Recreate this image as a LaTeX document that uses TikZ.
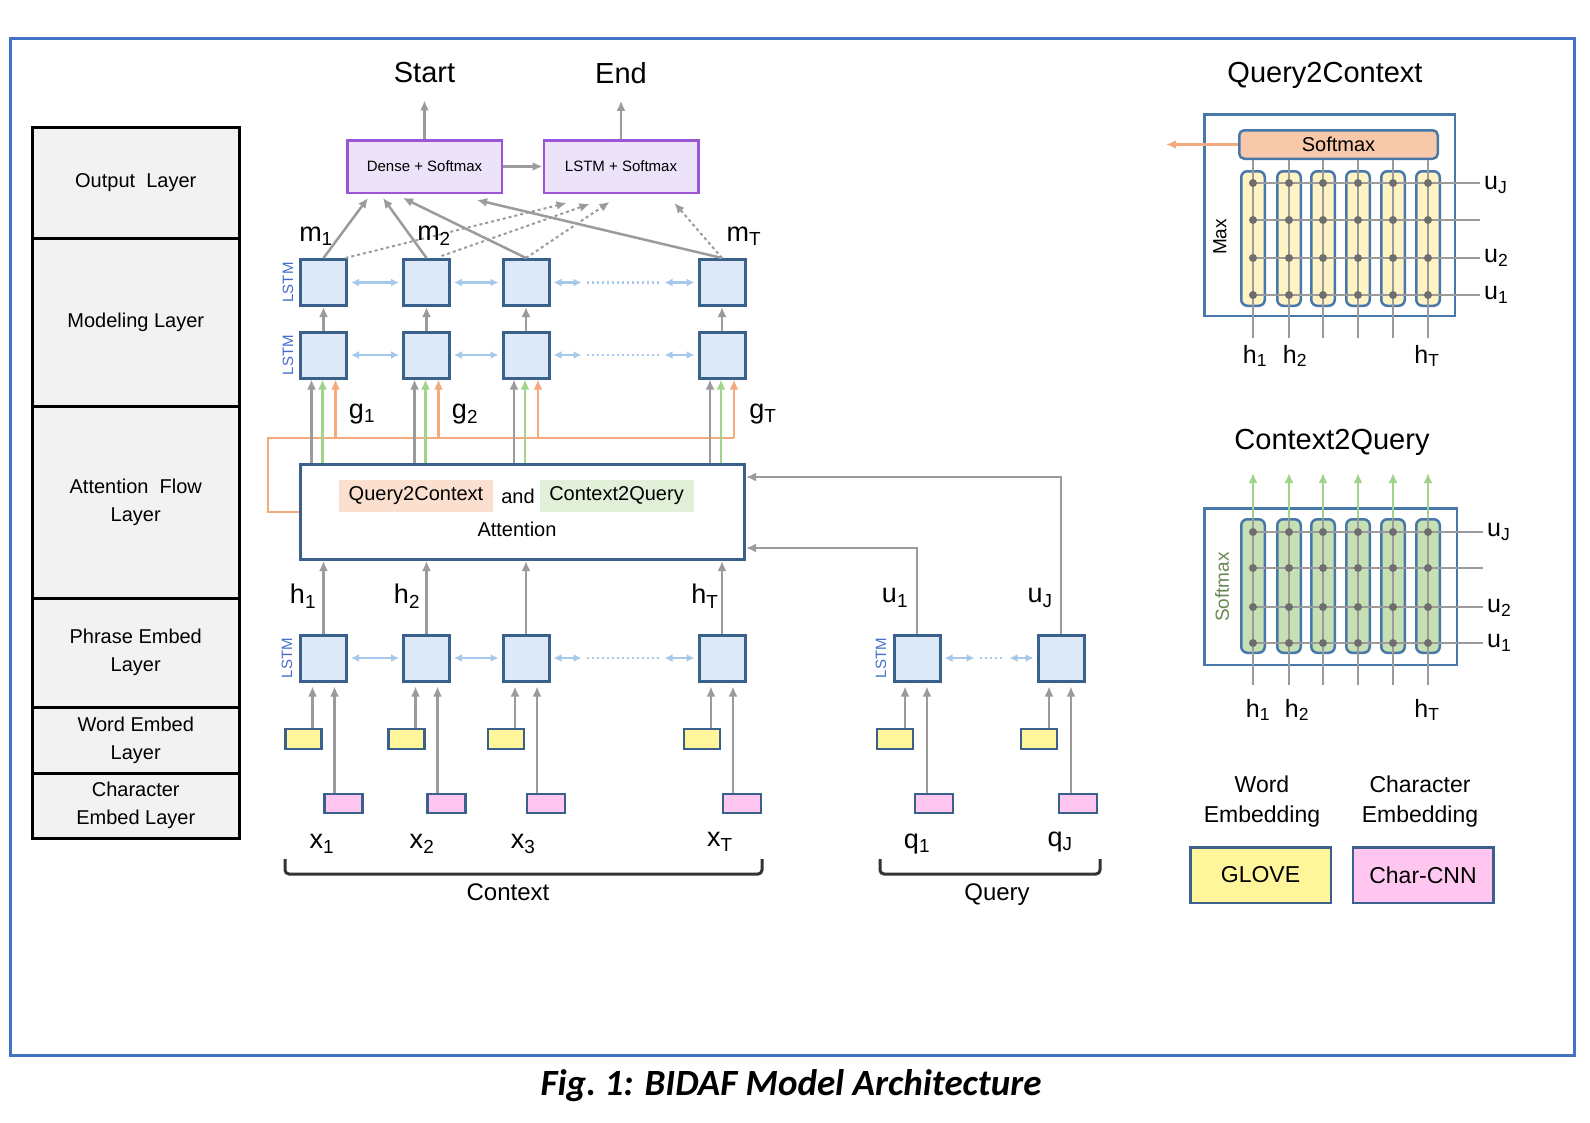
\documentclass[tikz,border=0pt]{standalone}
\usepackage{fontspec}
\setmainfont{Liberation Sans}
\newfontfamily\figcapfont{Carlito}
\usepackage{tikz}
\usetikzlibrary{arrows.meta}
\usetikzlibrary{calc}
\usetikzlibrary{positioning}

\definecolor{frameblue}{RGB}{68,114,196}
\definecolor{boxblue}{RGB}{58,96,140}
\definecolor{boxfill}{RGB}{221,233,246}
\definecolor{lightblue}{RGB}{165,200,235}
\definecolor{arrowgray}{RGB}{155,155,155}
\definecolor{flowgreen}{RGB}{160,212,138}
\definecolor{floworange}{RGB}{245,170,125}
\definecolor{outpurple}{RGB}{155,85,215}
\definecolor{outfill}{RGB}{236,226,250}
\definecolor{gloveyellow}{RGB}{255,245,155}
\definecolor{charpink}{RGB}{255,198,240}
\definecolor{layerfill}{RGB}{242,242,242}
\definecolor{peach}{RGB}{251,224,208}
\definecolor{palegreen}{RGB}{226,240,217}
\definecolor{softfill}{RGB}{248,200,170}
\definecolor{colyellow}{RGB}{255,243,196}
\definecolor{colgreen}{RGB}{198,224,180}
\definecolor{panelblue}{RGB}{72,120,170}
\definecolor{lstmblue}{RGB}{70,110,200}
\definecolor{dotgray}{RGB}{110,110,110}
\definecolor{softgreen}{RGB}{105,135,85}

\newcommand{\tikzGridDot}[1]{\fill[dotgray] #1 circle (4pt)}

\tikzset{
  layercell/.style={draw=black, fill=layerfill, line width=3pt, outer sep=0pt, minimum width=206.5pt, inner sep=0pt, align=center, font=\fontsize{20}{28}\selectfont},
  bigtext/.style={inner sep=2pt, font=\fontsize{29}{34}\selectfont},
  outbox/.style={draw=outpurple, fill=outfill, line width=2.5pt, minimum width=154.5pt, minimum height=52.5pt, inner sep=0pt, font=\fontsize{15}{18}\selectfont},
  lstmbox/.style={draw=boxblue, fill=boxfill, line width=3pt, minimum size=46pt, inner sep=0pt},
  attbox/.style={draw=boxblue, fill=white, line width=3pt, minimum width=444pt, minimum height=95pt, inner sep=0pt},
  hlbox/.style={minimum width=154pt, minimum height=32pt, inner sep=0pt, font=\fontsize{20}{24}\selectfont},
  hltext/.style={inner sep=1pt, font=\fontsize{20}{24}\selectfont},
  wordemb/.style={draw=boxblue, fill=gloveyellow, line width=2.5pt, minimum width=36pt, minimum height=20pt, inner sep=0pt},
  charemb/.style={draw=boxblue, fill=charpink, line width=2.5pt, minimum width=38pt, minimum height=19pt, inner sep=0pt},
  lstmtag/.style={rotate=90, text=lstmblue, inner sep=0pt, font=\fontsize{15}{17}\selectfont},
  varlabel/.style={inner sep=1pt, font=\fontsize{27}{30}\selectfont},
  grayarrow/.style={draw=arrowgray, line width=2.5pt, -{Latex[length=10pt,width=9pt]}},
  dasharrow/.style={grayarrow, line width=2pt, dash pattern=on 3pt off 3pt},
  greenarrow/.style={draw=flowgreen, line width=2.5pt, -{Latex[length=10pt,width=9pt]}},
  orangearrow/.style={draw=floworange, line width=2.5pt, -{Latex[length=10pt,width=9pt]}},
  orangeline/.style={draw=floworange, line width=2.5pt},
  biarrow/.style={draw=lightblue, line width=2.5pt, {Latex[length=8pt,width=8pt]}-{Latex[length=8pt,width=8pt]}, shorten <=3pt, shorten >=3pt},
  bidotted/.style={draw=lightblue, line width=2.5pt, dash pattern=on 2pt off 3pt},
  ctxbracket/.style={draw=black!80, line width=3pt, rounded corners=4pt},
  paneltitle/.style={inner sep=2pt, font=\fontsize{29}{34}\selectfont},
  panelbox/.style={draw=panelblue, line width=2.5pt, inner sep=0pt},
  softbox/.style={draw=panelblue, fill=softfill, line width=2.5pt, rounded corners=5pt, minimum width=198.5pt, minimum height=28.5pt, inner sep=0pt, font=\fontsize{20}{24}\selectfont},
  gridcol/.style={draw=panelblue, line width=2.5pt, rounded corners=6pt, minimum width=23.5pt, inner sep=0pt},
  gridline/.style={draw=arrowgray, line width=2.5pt},
  gridlabel/.style={inner sep=1pt, font=\fontsize{25}{28}\selectfont},
  vertlabel/.style={rotate=90, inner sep=0pt, font=\fontsize{19}{22}\selectfont},
  legendtext/.style={align=center, inner sep=0pt, font=\fontsize{23}{30}\selectfont},
  legendbox/.style={draw=boxblue, line width=2.5pt, minimum width=140.5pt, minimum height=55.5pt, inner sep=0pt, font=\fontsize{23}{26}\selectfont},
  labeltext/.style={inner sep=1pt, font=\fontsize{24}{28}\selectfont}
}

\begin{document}
\begin{tikzpicture}[x=1pt,y=-1pt]
  \useasboundingbox (0,0) rectangle (1590,1122);
  \fill[white] (0,0) rectangle (1590,1122);
  \draw[frameblue, line width=3pt] (10,38.5) rectangle (1574,1055);

  % layer names
  \node[layercell, minimum height=111pt] (outlayer) at (135.75,182.5) {Output\ \ Layer};
  \node[layercell, minimum height=168pt, below=0pt of outlayer] (modlayer) {Modeling Layer};
  \node[layercell, minimum height=192pt, below=0pt of modlayer] (attlayer) {Attention\ \ Flow\\Layer};
  \node[layercell, minimum height=109pt, below=0pt of attlayer] (phrlayer) {Phrase Embed\\Layer};
  \node[layercell, minimum height=66pt, below=0pt of phrlayer] (wordlayer) {Word Embed\\Layer};
  \node[layercell, minimum height=65pt, below=0pt of wordlayer] (charlayer) {Character\\Embed Layer};

  % output layer
  \node[bigtext] (start) at (424.5,73) {Start};
  \node[bigtext] (end) at (621,73) {End};
  \node[outbox] (dense) at (424.5,166.5) {Dense + Softmax};
  \node[outbox] (lstmsm) at (621,166.5) {LSTM + Softmax};
  \draw[grayarrow, shorten >=15pt] (dense) -- (start);
  \draw[grayarrow, shorten >=15pt] (lstmsm) -- (end);
  \draw[grayarrow] (dense) -- (lstmsm);

  % attention flow
  \node[attbox] (att) at (522.5,512) {};
  \node[hlbox, fill=peach] (q2cword) at (416,496) {Query2Context};
  \node[hltext] (andword) at (518,496) {and};
  \node[hlbox, fill=palegreen] (c2qword) at (616.5,496) {Context2Query};
  \node[hltext] (attword) at (517,529) {Attention};
  \coordinate (obend) at (268,438);

  \foreach \i/\x in {1/323.5,2/426.5,3/526,4/722}{
    \node[lstmbox] (mt\i) at (\x,282.5) {};
    \node[lstmbox] (mb\i) at (\x,355) {};
    \node[lstmbox] (ph\i) at (\x,658) {};
    \node[wordemb] (wd\i) at (\x-20,739) {};
    \node[charemb] (ch\i) at (\x+20,803.5) {};
    \coordinate (gy\i) at ($(mb\i.south)+(-12,0)$);
    \coordinate (gg\i) at ($(mb\i.south)+(-1,0)$);
    \coordinate (go\i) at ($(mb\i.south)+(12,0)$);
    \coordinate (wa\i) at ($(ph\i.south)+(-11,0)$);
    \coordinate (ca\i) at ($(ph\i.south)+(11,0)$);
  }
  \draw[orangeline] (att.west) -- (att.west -| obend) -- (obend) -- (go4 |- obend);
  \foreach \i in {1,...,4}{
    \draw[grayarrow] (mb\i) -- (mt\i);
    \draw[grayarrow] (ph\i) -- (ph\i |- att.south);
    \draw[grayarrow] (gy\i |- att.north) -- (gy\i);
    \draw[greenarrow] (gg\i |- att.north) -- (gg\i);
    \draw[orangearrow] (go\i |- obend) -- (go\i);
    \draw[grayarrow, shorten >=4pt] (wa\i |- wd\i.north) -- (wa\i);
    \draw[grayarrow, shorten >=4pt] (ca\i |- ch\i.north) -- (ca\i);
  }
  \foreach \r in {mt,mb,ph}{
    \draw[biarrow] (\r1) -- (\r2);
    \draw[biarrow] (\r2) -- (\r3);
    \draw[biarrow] (\r3.east) -- ($(\r3.east)+(34,0)$);
    \draw[bidotted] ($(\r3.east)+(36,0)$) -- ($(\r4.west)+(-38,0)$);
    \draw[biarrow] ($(\r4.west)+(-36,0)$) -- (\r4.west);
  }
  \node[lstmtag] (tagmt) at (288,282.5) {LSTM};
  \node[lstmtag] (tagmb) at (288,355) {LSTM};
  \node[lstmtag] (tagph) at (287,658) {LSTM};

  % modeling outputs to start / end
  \draw[grayarrow] (mt1.north) -- ($(dense.south west)+(22,4)$);
  \draw[grayarrow] (mt2.north) -- ($(dense.south west)+(37,4)$);
  \draw[grayarrow] (mt3.north) -- ($(dense.south west)+(57,4)$);
  \draw[grayarrow] (mt4.north) -- ($(dense.south west)+(131,6)$);
  \draw[dasharrow] ($(mt1.north)+(22,0)$) -- ($(lstmsm.south west)+(24,9)$);
  \draw[dasharrow] ($(mt2.north)+(15,-2)$) -- ($(lstmsm.south west)+(47,10)$);
  \draw[dasharrow] (mt3.north) -- ($(lstmsm.south west)+(67,8)$);
  \draw[dasharrow] (mt4.north) -- ($(lstmsm.south west)+(132,9)$);

  \node[varlabel] (m1) at (316,236) {m\textsubscript{1}};
  \node[varlabel] (m2) at (434,236) {m\textsubscript{2}};
  \node[varlabel] (mT) at (744,236) {m\textsubscript{T}};
  \node[varlabel] (g1) at (362,414) {g\textsubscript{1}};
  \node[varlabel] (g2) at (465,414) {g\textsubscript{2}};
  \node[varlabel] (gT) at (763,414) {g\textsubscript{T}};
  \node[varlabel] (h1) at (303,596) {h\textsubscript{1}};
  \node[varlabel] (h2) at (407,596) {h\textsubscript{2}};
  \node[varlabel] (hT) at (705,596) {h\textsubscript{T}};
  \node[varlabel] (x1) at (322,844) {x\textsubscript{1}};
  \node[varlabel] (x2) at (422,844) {x\textsubscript{2}};
  \node[varlabel] (x3) at (523,844) {x\textsubscript{3}};
  \node[varlabel] (xT) at (720,842) {x\textsubscript{T}};

  % query side
  \foreach \i/\x in {1/917,2/1061}{
    \node[lstmbox] (qy\i) at (\x,658) {};
    \node[wordemb] (qwd\i) at (\x-22,739) {};
    \node[charemb] (qch\i) at (\x+17,803.5) {};
    \coordinate (qwa\i) at ($(qy\i.south)+(-12,0)$);
    \coordinate (qca\i) at ($(qy\i.south)+(10,0)$);
    \draw[grayarrow, shorten >=4pt] (qwa\i |- qwd\i.north) -- (qwa\i);
    \draw[grayarrow, shorten >=4pt] (qca\i |- qch\i.north) -- (qca\i);
  }
  \node[lstmtag] (tagqy) at (881,658) {LSTM};
  \draw[biarrow] (qy1.east) -- ($(qy1.east)+(36,0)$);
  \draw[bidotted] ($(qy1.east)+(38,0)$) -- ($(qy2.west)+(-32,0)$);
  \draw[biarrow] ($(qy2.west)+(-30,0)$) -- (qy2.west);
  \draw[grayarrow] (qy1.north) |- (att.east |- 0,548);
  \draw[grayarrow] (qy2.north) |- (att.east |- 0,477);
  \node[varlabel] (u1) at (895,598) {u\textsubscript{1}};
  \node[varlabel] (uJ) at (1040,598) {u\textsubscript{J}};
  \node[varlabel] (q1) at (917,844) {q\textsubscript{1}};
  \node[varlabel] (qJ) at (1060,842) {q\textsubscript{J}};

  \draw[ctxbracket] (285,859) -- (285,874) -- (762,874) -- (762,859);
  \draw[ctxbracket] (880,859) -- (880,874) -- (1100,874) -- (1100,859);
  \node[labeltext] (ctxword) at (508,892) {Context};
  \node[labeltext] (qryword) at (997,895) {Query};

  % query2context panel
  \node[paneltitle] (q2ctitle) at (1325,75) {Query2Context};
  \node[panelbox, minimum width=250.5pt, minimum height=201.5pt] (q2cpanel) at (1329.5,215) {};
  \node[softbox] (q2csoft) at (1338.5,144.5) {Softmax};
  \coordinate (q2cout) at (1166,144.5);
  \draw[orangearrow] (q2csoft) -- (q2cout);
  \node[vertlabel] (maxtag) at (1220,237) {Max};
  \foreach \x [count=\k] in {1253,1289,1323,1358,1393,1428}{
    \node[gridcol, fill=colyellow, minimum height=134.5pt] (qc\k) at (\x,238.5) {};
    \draw[gridline] (qc\k |- q2csoft.south) -- (\x,338);
  }
  \foreach \y in {183,220,258,295} \draw[gridline] (qc1 |- 0,\y) -- (1480,\y);
  \foreach \x in {1253,1289,1323,1358,1393,1428}
    \foreach \y in {183,220,258,295} \tikzGridDot{(\x,\y)};
  \node[gridlabel, anchor=west] (q2cuJ) at (1483,185) {u\textsubscript{J}};
  \node[gridlabel, anchor=west] (q2cu2) at (1483,258) {u\textsubscript{2}};
  \node[gridlabel, anchor=west] (q2cu1) at (1483,295) {u\textsubscript{1}};
  \node[gridlabel] (q2ch1) at (1255,356) {h\textsubscript{1}};
  \node[gridlabel] (q2ch2) at (1295,356) {h\textsubscript{2}};
  \node[gridlabel] (q2chT) at (1427,356) {h\textsubscript{T}};

  % context2query panel
  \node[paneltitle] (c2qtitle) at (1332,442) {Context2Query};
  \node[panelbox, minimum width=252.5pt, minimum height=156.5pt] (c2qpanel) at (1330.5,586.5) {};
  \node[vertlabel, text=softgreen] (softtag) at (1222,587) {Softmax};
  \foreach \x [count=\k] in {1253,1289,1323,1358,1393,1428}{
    \node[gridcol, fill=colgreen, minimum height=133.5pt] (cc\k) at (\x,586) {};
    \draw[gridline] (\x,685) -- (cc\k.north);
    \draw[greenarrow] (cc\k.north) -- (\x,473);
  }
  \foreach \y in {532,568,607,643} \draw[gridline] (cc1 |- 0,\y) -- (1483,\y);
  \foreach \x in {1253,1289,1323,1358,1393,1428}
    \foreach \y in {532,568,607,643} \tikzGridDot{(\x,\y)};
  \node[gridlabel, anchor=west] (c2quJ) at (1486,532) {u\textsubscript{J}};
  \node[gridlabel, anchor=west] (c2qu2) at (1486,608) {u\textsubscript{2}};
  \node[gridlabel, anchor=west] (c2qu1) at (1486,643) {u\textsubscript{1}};
  \node[gridlabel] (c2qh1) at (1258,710) {h\textsubscript{1}};
  \node[gridlabel] (c2qh2) at (1297,710) {h\textsubscript{2}};
  \node[gridlabel] (c2qhT) at (1427,710) {h\textsubscript{T}};

  % legend
  \node[legendtext] (wordleg) at (1262,802) {Word\\Embedding};
  \node[legendtext] (charleg) at (1420,802) {Character\\Embedding};
  \node[legendbox, fill=gloveyellow] (glove) at (1260.5,875) {GLOVE};
  \node[legendbox, fill=charpink] (charcnn) at (1423,875) {Char-CNN};

  \node[inner sep=0pt, font=\figcapfont\bfseries\itshape\fontsize{37}{42}\selectfont] (figcap) at (791,1086) {Fig.\ 1: BIDAF Model Architecture};
\end{tikzpicture}
\end{document}
